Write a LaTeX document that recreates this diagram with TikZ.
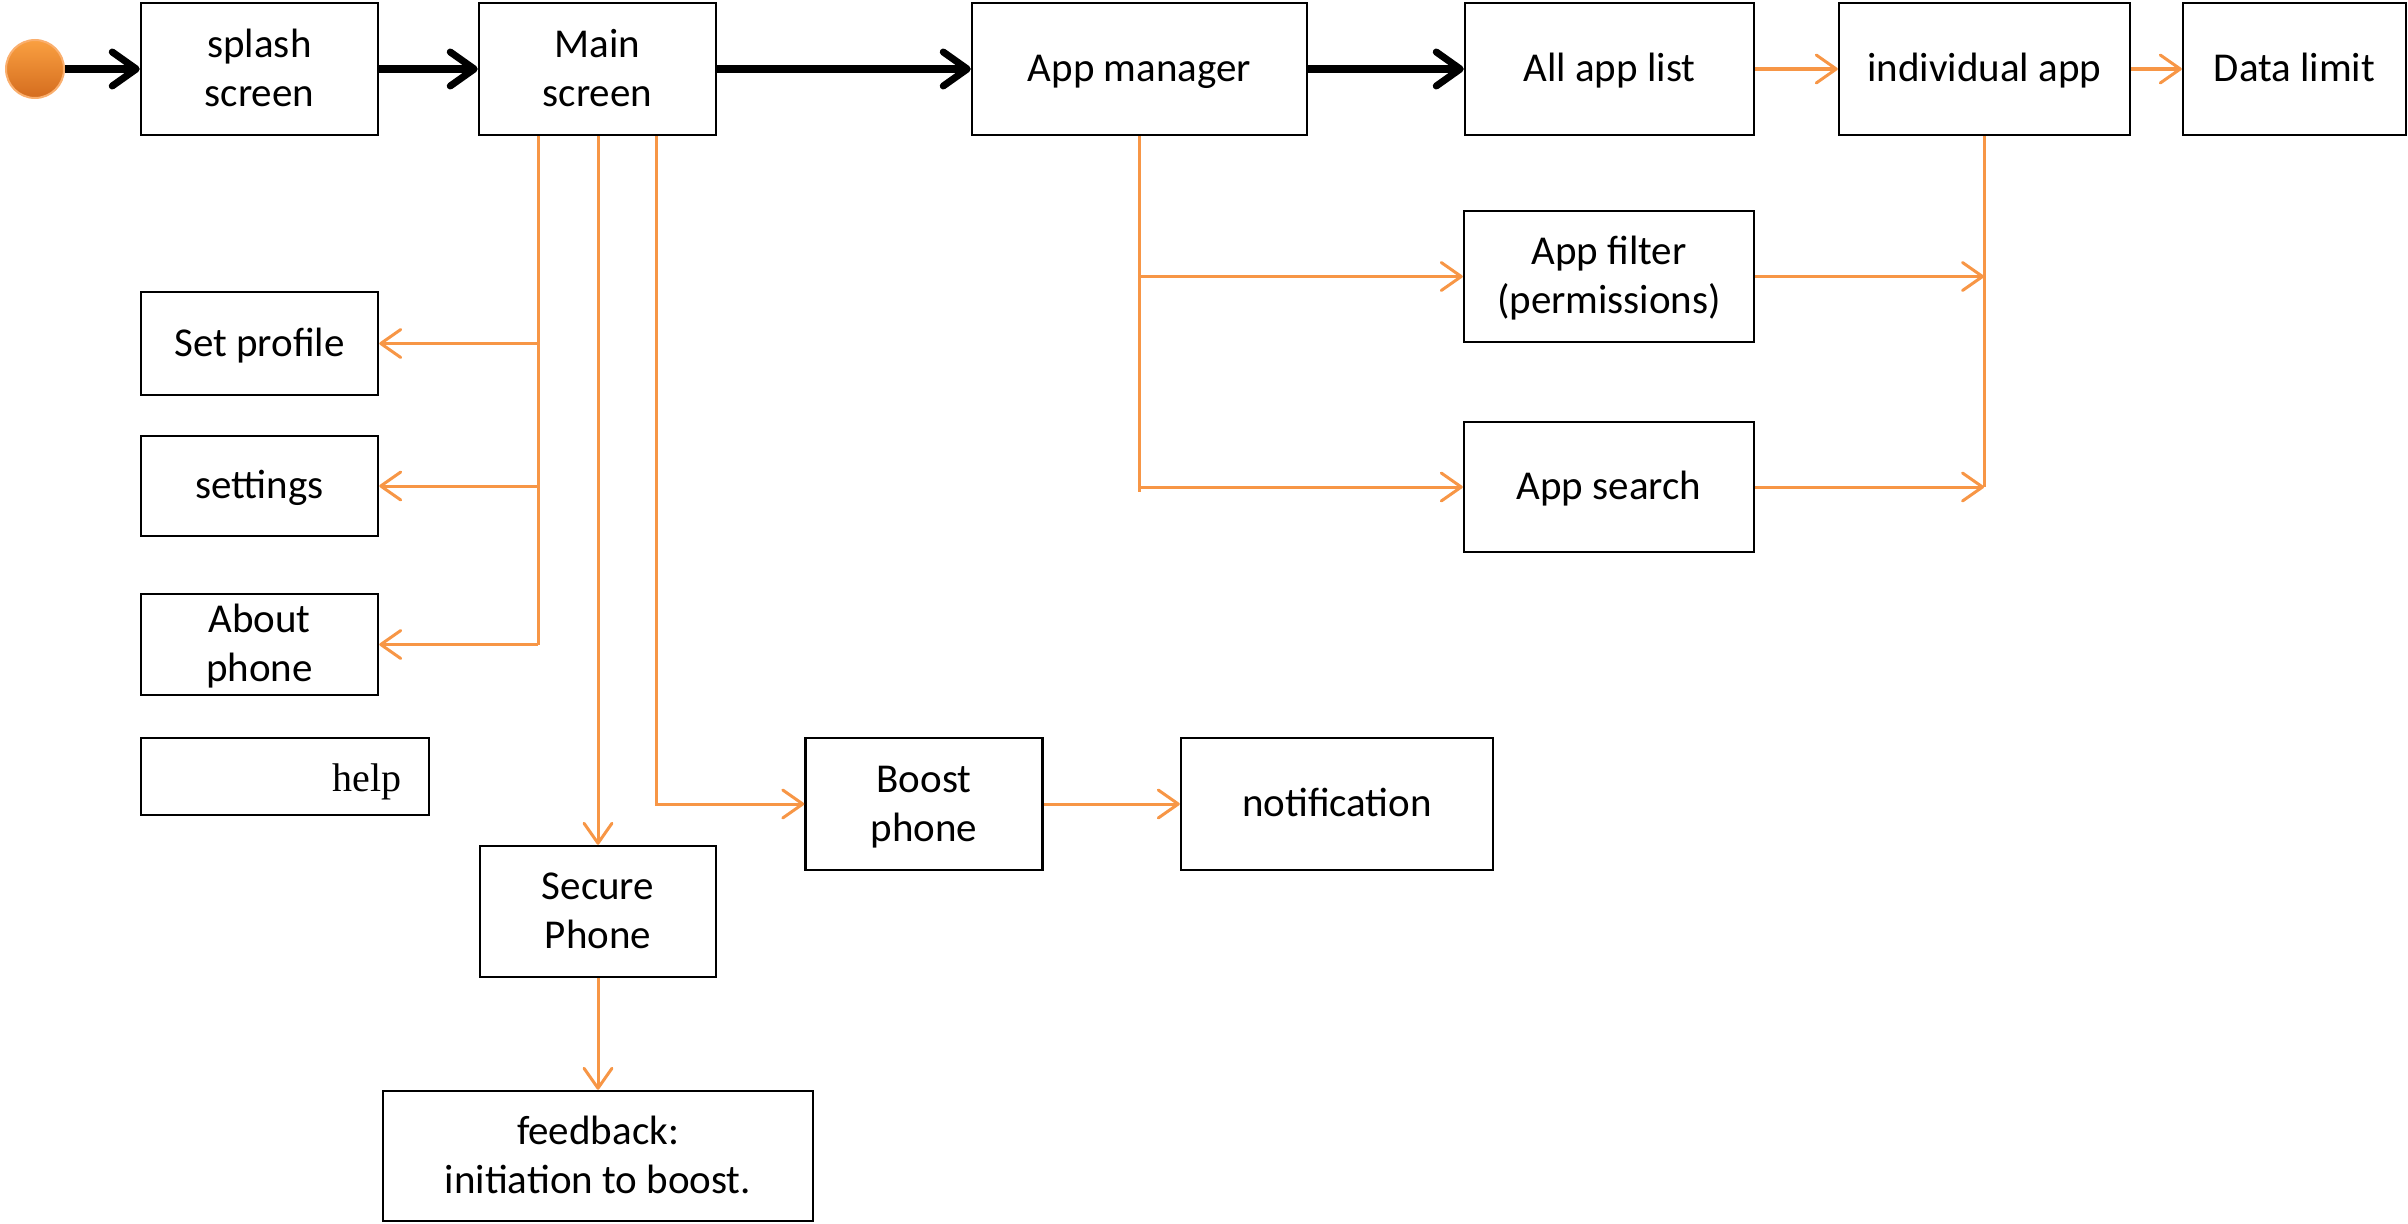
\documentclass[tikz,border=0pt]{standalone}
\usepackage{fontspec}
\setmainfont{Carlito}
\newfontfamily\helpfont{Liberation Serif}
\usetikzlibrary{arrows.meta}
\definecolor{orng}{RGB}{247,150,70}
\definecolor{orngtop}{RGB}{250,160,65}
\definecolor{orngbot}{RGB}{212,108,30}
\definecolor{orngline}{RGB}{250,175,110}
\newcommand\myTs{\rule{0pt}{34pt}}
\newcommand\myBs{\rule[-9pt]{0pt}{9pt}}
\begin{document}
\begin{tikzpicture}[x=1pt,y=-1pt,
  box/.style={draw=black, line width=2.5pt, minimum width=237pt, minimum height=132pt,
    inner sep=0pt, align=center, font=\fontsize{41}{49}\selectfont},
  blk/.style={line width=7pt, -{Straight Barb[length=24pt,width=34pt,round]}},
  oa/.style={draw=orng, line width=3pt, -{Straight Barb[length=20pt,width=28pt,round]}},
  ol/.style={draw=orng, line width=3pt}]
\useasboundingbox (0,0) rectangle (2408,1223);

% start point
\node[circle, minimum size=58pt, inner sep=0pt, top color=orngtop, bottom color=orngbot,
      draw=orngline, line width=2pt] (start) at (35,69) {};

% top row
\node[box] (splash) at (259.5,69) {\myTs splash\\screen\myBs};
\node[box] (main) at (597.5,69) {\myTs Main\\screen\myBs};
\node[box, minimum width=335pt] (appmgr) at (1139.5,69) {\myTs App manager\myBs};
\node[box, minimum width=289pt] (alllist) at (1609.5,69) {\myTs All app list\myBs};
\node[box, minimum width=291pt] (indiv) at (1984.5,69) {\myTs individual app\myBs};
\node[box, minimum width=223pt] (datalimit) at (2294.5,69) {\myTs Data limit\myBs};

% left column
\node[box, minimum height=103pt] (setprofile) at (259.5,343.5) {\myTs Set profile\myBs};
\node[box, minimum height=100pt] (settings) at (259.5,486) {\myTs settings\myBs};
\node[box, minimum height=101pt] (about) at (259.5,644.5) {\myTs About\\phone\myBs};
\node[box, minimum width=288pt, minimum height=77pt] (help) at (285,776.5) {};
\node[anchor=base east, inner sep=0pt, font=\helpfont\fontsize{40}{48}\selectfont] (helplabel) at (402,791) {help};

% lower middle
\node[box, minimum width=236pt, minimum height=131pt] (secure) at (598,911.5) {\myTs Secure\\Phone\myBs};
\node[box, minimum width=430pt, minimum height=130pt] (feedback) at (598,1156) {\myTs feedback:\\initiation to boost.\myBs};
\node[box] (boost) at (924,804) {\myTs Boost\\phone\myBs};
\node[box, minimum width=312pt] (notification) at (1337,804) {\myTs notification\myBs};

% app manager branch
\node[box, minimum width=290pt, minimum height=131pt] (appfilter) at (1609,276.5) {\myTs App filter\\(permissions)\myBs};
\node[box, minimum width=290pt, minimum height=130pt] (appsearch) at (1609,487) {\myTs App search\myBs};

% black connectors
\draw[blk] (start) -- (splash);
\draw[blk] (splash) -- (main);
\draw[blk] (main) -- (appmgr);
\draw[blk] (appmgr) -- (alllist);

% orange top connectors
\draw[oa] (alllist) -- (indiv);
\draw[oa] (indiv) -- (datalimit);

% main screen branches
\coordinate (m1) at ([xshift=-59.5pt]main.south);
\coordinate (m2) at ([xshift=0.5pt]main.south);
\coordinate (m3) at ([xshift=58.5pt]main.south);
\draw[ol] (m1) -- (m1 |- about.east);
\draw[oa] (m1 |- setprofile.east) -- (setprofile.east);
\draw[oa] (m1 |- settings.east) -- (settings.east);
\draw[oa] (m1 |- about.east) -- (about.east);
\draw[oa] (m2) -- (secure.north);
\draw[oa] (m3) |- (boost.west);
\draw[oa] (boost) -- (notification);
\draw[oa] (secure) -- (feedback);

% app manager branches
\coordinate (amend) at ([xshift=-0.5pt,yshift=-5pt]appmgr.south |- appsearch.west);
\draw[ol] ([xshift=-0.5pt]appmgr.south) -- (amend);
\draw[oa] ([xshift=-0.5pt]appmgr.south |- appfilter.west) -- (appfilter.west);
\draw[oa] ([xshift=-0.5pt]appmgr.south |- appsearch.west) -- (appsearch.west);

% into individual app
\coordinate (ia) at ([xshift=-0.5pt]indiv.south);
\draw[ol] (ia) -- (ia |- appsearch.east);
\draw[oa] (appfilter.east) -- (appfilter.east -| ia);
\draw[oa] (appsearch.east) -- (appsearch.east -| ia);
\end{tikzpicture}
\end{document}
